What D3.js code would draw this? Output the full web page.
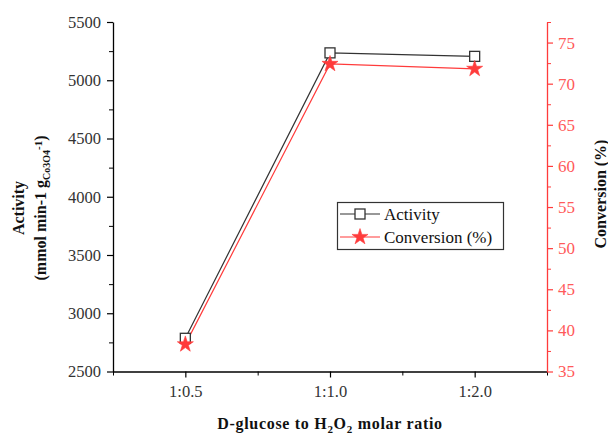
<!DOCTYPE html>
<html>
<head>
<meta charset="utf-8">
<script src="https://cdn.jsdelivr.net/npm/d3@7/dist/d3.min.js"></script>
<style>
  html, body { margin: 0; padding: 0; background: #fff; }
</style>
</head>
<body>
<svg id="chart" width="608" height="436"></svg>
<script>
// Molar ratio categories (D-glucose : H2O2)
const ratios = ["1:0.5", "1:1.0", "1:2.0"];
// Activity, mmol min-1 g(Co3O4)-1
const activity = [2785, 5235, 5205];
// Conversion, %
const conversion = [38.3, 72.4, 71.8];
// Axis tick values
const leftTicks = [2500, 3000, 3500, 4000, 4500, 5000, 5500];
const rightTicks = [35, 40, 45, 50, 55, 60, 65, 70, 75];

const RED = "#ff3b3b";
const RED_TEXT = "#ff5a5a";
const DARK = "#333";
const SERIF = "'Liberation Serif', 'Times New Roman', serif";

const svg = d3.select("#chart");
const m = { left: 113, right: 547, top: 22, bottom: 371.5 };

const x = d3.scaleLinear().domain([0.5, 3.5]).range([m.left, m.right]);
const yL = d3.scaleLinear().domain([2500, 5500]).range([m.bottom, m.top]);
const yR = d3.scaleLinear().domain([35, 77.5]).range([m.bottom, m.top]);

// minor ticks
const minorLeft = d3.range(2750, 5500, 500);
const minorRight = d3.range(37.5, 78, 5);
const minorX = [0.5, 1.5, 2.5, 3.5];

function styleAxis(g, color, textColor, size) {
  g.attr("font-family", null).attr("font-size", null);
  g.selectAll("path.domain").attr("stroke", color).attr("stroke-width", 1.3);
  g.selectAll(".tick line").attr("stroke", color).attr("stroke-width", 1.2);
  g.selectAll("text").attr("fill", textColor)
    .style("font-family", SERIF).style("font-size", size);
}

// bottom axis
const gx = svg.append("g").attr("transform", `translate(0,${m.bottom})`)
  .call(d3.axisBottom(x).tickValues([1, 2, 3]).tickFormat((d, i) => ratios[i]).tickSize(6).tickSizeOuter(0).tickPadding(8));
styleAxis(gx, "#000", DARK, "16.5px");
svg.append("g").attr("transform", `translate(0,${m.bottom})`)
  .call(d3.axisBottom(x).tickValues(minorX).tickFormat("").tickSize(4).tickSizeOuter(0))
  .call(g => { g.select(".domain").remove(); g.selectAll("line").attr("stroke", "#000"); });

// left axis
const gl = svg.append("g").attr("transform", `translate(${m.left},0)`)
  .call(d3.axisLeft(yL).tickValues(leftTicks).tickFormat(d3.format("d")).tickSize(6).tickSizeOuter(0).tickPadding(6));
styleAxis(gl, "#000", DARK, "16.5px");
svg.append("g").attr("transform", `translate(${m.left},0)`)
  .call(d3.axisLeft(yL).tickValues(minorLeft).tickFormat("").tickSize(4).tickSizeOuter(0))
  .call(g => { g.select(".domain").remove(); g.selectAll("line").attr("stroke", "#000"); });

// right axis
const gr = svg.append("g").attr("transform", `translate(${m.right},0)`)
  .call(d3.axisRight(yR).tickValues(rightTicks).tickSize(6).tickSizeOuter(0).tickPadding(5));
styleAxis(gr, RED, RED_TEXT, "17px");
svg.append("g").attr("transform", `translate(${m.right},0)`)
  .call(d3.axisRight(yR).tickValues(minorRight).tickFormat("").tickSize(4).tickSizeOuter(0))
  .call(g => { g.select(".domain").remove(); g.selectAll("line").attr("stroke", RED); });

// series lines
const lineA = d3.line().x((d, i) => x(i + 1)).y(d => yL(d));
const lineC = d3.line().x((d, i) => x(i + 1)).y(d => yR(d));

svg.append("path").datum(conversion).attr("d", lineC)
  .attr("fill", "none").attr("stroke", RED).attr("stroke-width", 1.2);
svg.append("path").datum(activity).attr("d", lineA)
  .attr("fill", "none").attr("stroke", DARK).attr("stroke-width", 1.2);

const star = d3.symbol().type(d3.symbolStar).size(80);
const square = 100;

function drawStar(g, cx, cy) {
  g.append("path").attr("d", star()).attr("transform", `translate(${cx},${cy})`)
    .attr("fill", RED).attr("stroke", RED).attr("stroke-width", 0.6);
}
function drawSquare(g, cx, cy) {
  const s = Math.sqrt(square);
  g.append("rect").attr("x", cx - s / 2).attr("y", cy - s / 2).attr("width", s).attr("height", s)
    .attr("fill", "#fff").attr("stroke", DARK).attr("stroke-width", 1.3);
}

const marks = svg.append("g");
activity.forEach((v, i) => drawSquare(marks, x(i + 1), yL(v)));
conversion.forEach((v, i) => drawStar(marks, x(i + 1), yR(v)));

// legend
const lg = svg.append("g");
lg.append("rect").attr("x", 337.5).attr("y", 202.5).attr("width", 166).attr("height", 47)
  .attr("fill", "#fff").attr("stroke", DARK).attr("stroke-width", 1.2);
lg.append("line").attr("x1", 340).attr("x2", 380).attr("y1", 214).attr("y2", 214).attr("stroke", DARK).attr("stroke-width", 1.2);
drawSquare(lg, 360, 214);
lg.append("line").attr("x1", 340).attr("x2", 380).attr("y1", 237).attr("y2", 237).attr("stroke", RED).attr("stroke-width", 1.2);
drawStar(lg, 360, 237);
lg.append("text").attr("x", 384).attr("y", 219.5).text("Activity")
  .style("font-family", SERIF).style("font-size", "17px").attr("fill", "#111");
lg.append("text").attr("x", 384).attr("y", 242.5).text("Conversion (%)")
  .style("font-family", SERIF).style("font-size", "17px").attr("fill", "#111");

// axis titles
svg.append("text").attr("x", 330).attr("y", 429).attr("text-anchor", "middle")
  .style("font-family", SERIF).style("font-size", "16px").style("font-weight", "bold").attr("fill", "#111")
  .style("letter-spacing", "0.7px")
  .call(t => {
    t.append("tspan").text("D-glucose to H");
    t.append("tspan").text("2").attr("dy", 4).style("font-size", "11px");
    t.append("tspan").text("O").attr("dy", -4);
    t.append("tspan").text("2").attr("dy", 4).style("font-size", "11px");
    t.append("tspan").text(" molar ratio").attr("dy", -4);
  });

const lt = svg.append("g").attr("transform", "translate(0,208) rotate(-90)");
lt.append("text").attr("x", 0).attr("y", 24).attr("text-anchor", "middle")
  .style("font-family", SERIF).style("font-size", "16px").style("font-weight", "bold").attr("fill", "#111").text("Activity");
lt.append("text").attr("x", 0).attr("y", 46).attr("text-anchor", "middle")
  .style("font-family", SERIF).style("font-size", "16px").style("font-weight", "bold").attr("fill", "#111")
  .call(t => {
    t.append("tspan").text("(mmol min-1 g");
    t.append("tspan").text("Co3O4").attr("dy", 4).style("font-size", "10px");
    t.append("tspan").text("-1").attr("dy", -8).style("font-size", "11px");
    t.append("tspan").text(")").attr("dy", 4);
  });

svg.append("text").attr("transform", "translate(606,194) rotate(-90)").attr("text-anchor", "middle")
  .style("font-family", SERIF).style("font-size", "16px").style("font-weight", "bold").attr("fill", "#111").text("Conversion (%)");
</script>
</body>
</html>
